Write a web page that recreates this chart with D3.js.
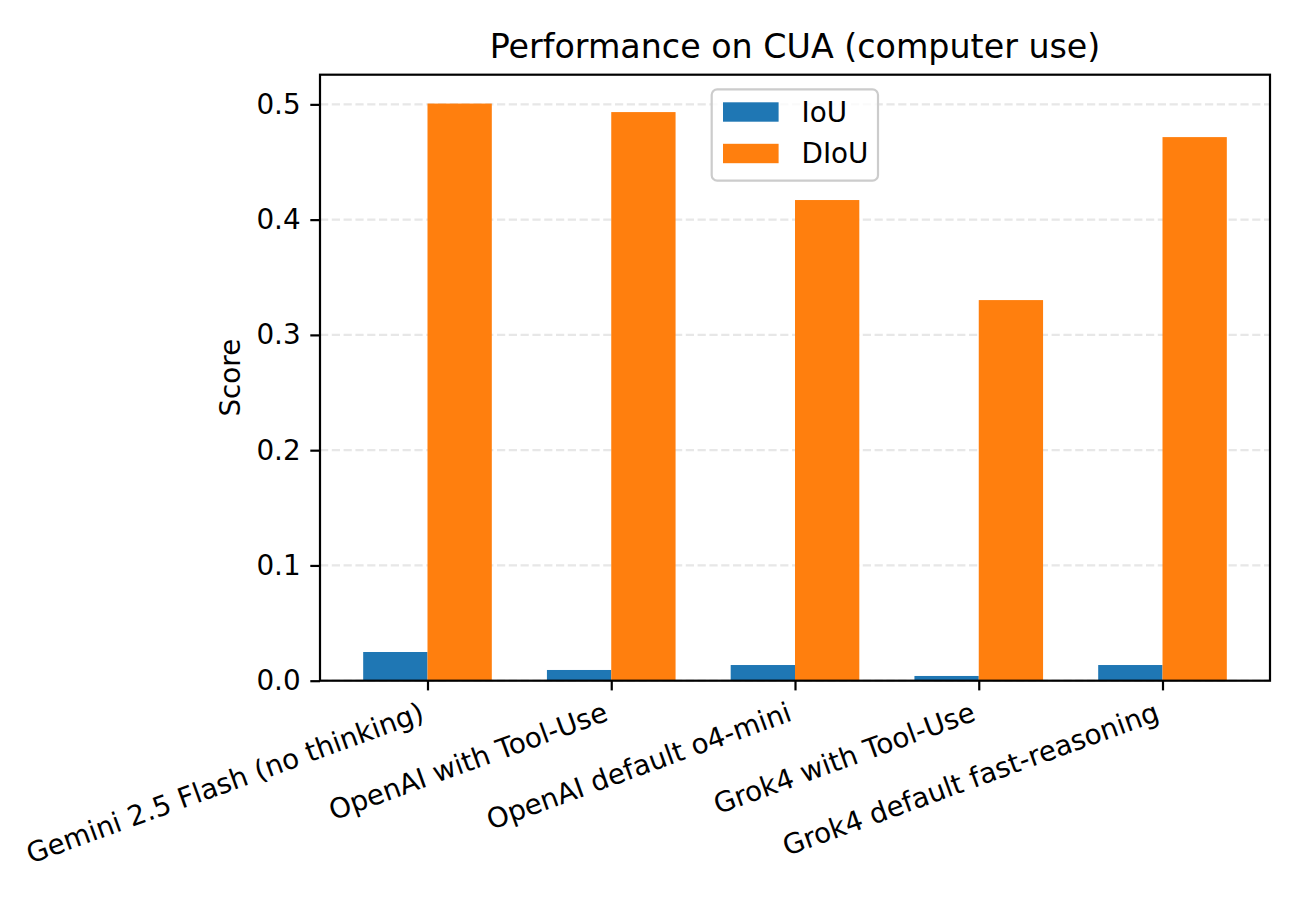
<!DOCTYPE html>
<html><head><meta charset="utf-8">
<script src="https://cdn.jsdelivr.net/npm/d3@7"></script>
<style>body{margin:0;background:#fff}svg{display:block}text{font-family:"DejaVu Sans",sans-serif}</style>
</head><body>
<svg id="c" width="1300" height="900"></svg>
<script>
const categories = ["Gemini 2.5 Flash (no thinking)", "OpenAI with Tool-Use", "OpenAI default o4-mini", "Grok4 with Tool-Use", "Grok4 default fast-reasoning"];
const seriesNames = ["IoU", "DIoU"];
const iouValues = [0.0249, 0.0093, 0.0136, 0.0041, 0.0136];
const diouValues = [0.5007, 0.4933, 0.4170, 0.3302, 0.4716];
const yTicks = [0.0, 0.1, 0.2, 0.3, 0.4, 0.5];
const colors = ["#1f77b4", "#ff7f0e"];

const svg = d3.select("#c");
const L = 320, R = 1270, T = 74.7, B = 680.7;
const barW = 0.35;
const n = categories.length;
const xmin = -barW, xmax = (n - 1) + barW, xm = (xmax - xmin) * 0.05;
const x = d3.scaleLinear().domain([xmin - xm, xmax + xm]).range([L, R]);
const ymaxData = d3.max(diouValues.concat(iouValues));
const y = d3.scaleLinear().domain([0, ymaxData * 1.05]).range([B, T]);

// grid
svg.append("g").selectAll("line").data(yTicks).join("line")
  .attr("x1", L).attr("x2", R).attr("y1", d => y(d)).attr("y2", d => y(d))
  .attr("stroke", "#b0b0b0").attr("stroke-opacity", 0.3).attr("stroke-width", 2.2)
  .attr("stroke-dasharray", "8.2,3.6");

// bars
const series = [iouValues, diouValues];
series.forEach((vals, s) => {
  const off = s === 0 ? -barW / 2 : barW / 2;
  svg.append("g").selectAll("rect").data(vals).join("rect")
    .attr("x", (d, i) => x(i + off - barW / 2))
    .attr("width", (d, i) => x(i + off + barW / 2) - x(i + off - barW / 2))
    .attr("y", d => y(d)).attr("height", d => B - y(d))
    .attr("fill", colors[s]);
});

// y axis
const yAxis = d3.axisLeft(y).tickValues(yTicks).tickFormat(d3.format(".1f")).tickSize(9.7).tickPadding(9.7);
const gy = svg.append("g").attr("transform", `translate(${L},0)`).call(yAxis);
gy.select(".domain").remove();
gy.selectAll(".tick line").attr("stroke", "#000").attr("stroke-width", 2.2);
gy.selectAll(".tick text").attr("font-size", 27.8).attr("fill", "#000").attr("font-family", "DejaVu Sans");

// x axis
const xAxis = d3.axisBottom(x).tickValues(d3.range(n)).tickFormat(i => categories[i]).tickSize(9.7).tickPadding(0);
const gx = svg.append("g").attr("transform", `translate(0,${B})`).call(xAxis);
gx.select(".domain").remove();
gx.selectAll(".tick line").attr("stroke", "#000").attr("stroke-width", 2.2);
gx.selectAll(".tick text").attr("font-size", 27.8).attr("fill", "#000").attr("font-family", "DejaVu Sans")
  .attr("text-anchor", "end").attr("dy", null).attr("y", null)
  .attr("transform", "translate(-2.2,39.3) rotate(-20)");

// spines
svg.append("rect").attr("x", L).attr("y", T).attr("width", R - L).attr("height", B - T)
  .attr("fill", "none").attr("stroke", "#000").attr("stroke-width", 2.2);

// title
svg.append("text").attr("x", (L + R) / 2).attr("y", 58).attr("text-anchor", "middle")
  .attr("font-size", 33.3).text("Performance on CUA (computer use)");

// y label
svg.append("text").attr("transform", `translate(240,${(T + B) / 2}) rotate(-90)`)
  .attr("text-anchor", "middle").attr("font-size", 27.8).text("Score");

// legend
const lg = svg.append("g");
lg.append("rect").attr("x", 711.7).attr("y", 89.3).attr("width", 166.3).attr("height", 91.4)
  .attr("rx", 5.5).attr("fill", "#fff").attr("fill-opacity", 0.8)
  .attr("stroke", "#cccccc").attr("stroke-width", 2.2);
seriesNames.forEach((nm, i) => {
  const yy = 102.3 + i * 41.5;
  lg.append("rect").attr("x", 723).attr("y", yy).attr("width", 55.6).attr("height", 19.4).attr("fill", colors[i]);
  lg.append("text").attr("x", 801.5).attr("y", yy + 19.4).attr("font-size", 27.8).text(nm);
});
</script>
</body></html>
